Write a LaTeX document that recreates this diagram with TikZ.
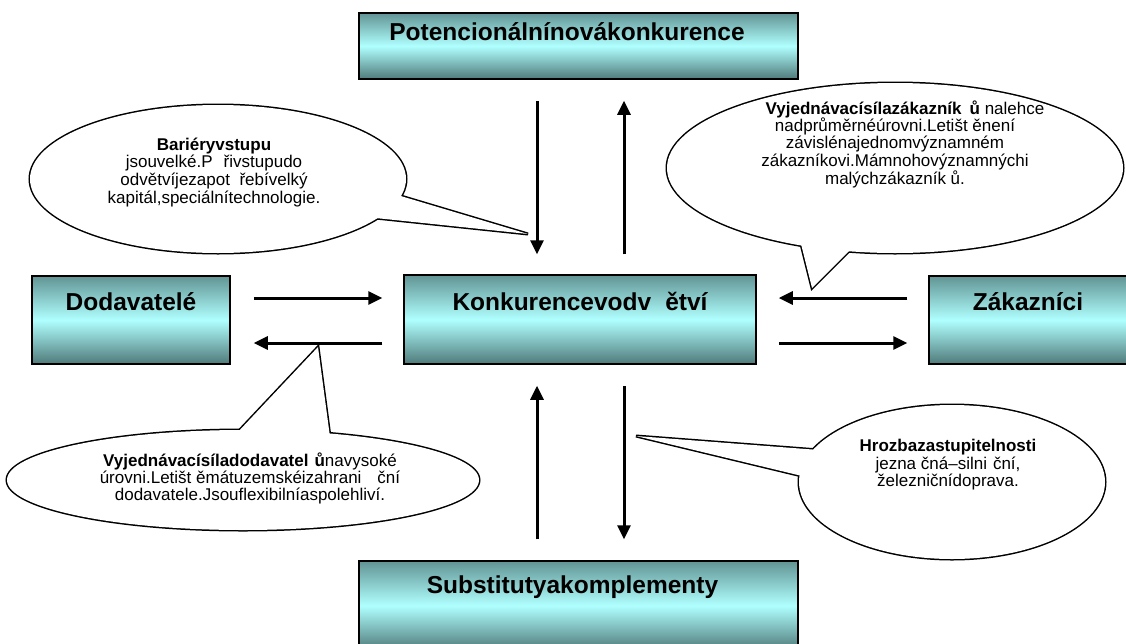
\documentclass[tikz,border=0pt]{standalone}
\usepackage{fontspec}
\setmainfont{Liberation Sans}
\usetikzlibrary{arrows.meta}

\definecolor{boxtop}{RGB}{98,148,148}
\definecolor{boxmid}{RGB}{176,255,255}
\definecolor{boxbot}{RGB}{80,122,122}

% centred multi-line callout text, anchored on the baseline of its first line
\newcommand\bubtext[2]{{\fontsize{17pt}{#1}\selectfont\begin{tabular}[t]{@{}c@{}}#2\end{tabular}}}

\begin{document}
\begin{tikzpicture}[x=1pt,y=-1pt,
  box/.style={draw=black, line width=1.5pt, top color=boxtop, bottom color=boxbot,
              middle color=boxmid, inner sep=0pt},
  title/.style={inner sep=0pt, anchor=base, font=\fontsize{24.5pt}{28pt}\selectfont\bfseries},
  bubtxt/.style={inner sep=0pt, anchor=base},
  arr/.style={line width=3pt, -{Triangle[length=14pt,width=13pt]}},
  bubedge/.style={line width=3pt, fill=white},
]
\useasboundingbox (0,0) rectangle (1126,643);
\clip (0,0) rectangle (1126,643);

% ---- boxes -------------------------------------------------------------
\node[box, minimum width=439pt, minimum height=66pt] (pot)  at (578.5,46)  {};
\node[box, minimum width=352pt, minimum height=89pt] (konk) at (580,319.5) {};
\node[box, minimum width=198pt, minimum height=88pt] (dod)  at (131,320)   {};
\node[box, minimum width=198pt, minimum height=88pt] (zak)  at (1028,320)  {};
\node[box, minimum width=439pt, minimum height=89pt] (sub)  at (578.5,605.5) {};

\node[title] (potT)  at (567,40)    {Potencionálnínovákonkurence};
\node[title] (konkT) at (580,310)   {Konkurencevodv\hspace{14pt}ětví};
\node[title] (dodT)  at (131,310)   {Dodavatelé};
\node[title] (zakT)  at (1028,310)  {Zákazníci};
\node[title] (subT)  at (572.5,593) {Substitutyakomplementy};

% ---- arrows --------------------------------------------------------------
\coordinate (cL) at (537,0);
\coordinate (cR) at (624,0);
\coordinate (rT) at (0,298);
\coordinate (rB) at (0,343);

\draw[arr, shorten <=21pt, shorten >=20pt] (pot.south -| cL) -- (konk.north -| cL);
\draw[arr, shorten <=20pt, shorten >=21pt] (konk.north -| cR) -- (pot.south -| cR);
\draw[arr, shorten <=21pt, shorten >=21pt] (sub.north -| cL) -- (konk.south -| cL);
\draw[arr, shorten <=21pt, shorten >=21pt] (konk.south -| cR) -- (sub.north -| cR);
\draw[arr, shorten <=23pt, shorten >=21pt] (dod.east |- rT) -- (konk.west |- rT);
\draw[arr, shorten <=21pt, shorten >=23pt] (konk.west |- rB) -- (dod.east |- rB);
\draw[arr, shorten <=21pt, shorten >=22pt] (zak.west |- rT) -- (konk.east |- rT);
\draw[arr, shorten <=22pt, shorten >=21pt] (konk.east |- rB) -- (zak.west |- rB);

% ---- callouts: outline drawn twice as wide, then the inside filled white ----
% barriers to entry
\draw[bubedge] (218,179) ellipse [x radius=188pt, y radius=74pt];
\draw[bubedge] (394,194) -- (528,234) -- (366,217);
\fill[white] (218,179) ellipse [x radius=188pt, y radius=74pt];
\fill[white] (394,194) -- (528,234) -- (366,217) -- cycle;

% bargaining power of customers
\draw[bubedge] (895,168) ellipse [x radius=228pt, y radius=85pt];
\draw[bubedge] (800,240) -- (812,288) -- (850,250);
\fill[white] (895,168) ellipse [x radius=228pt, y radius=85pt];
\fill[white] (800,240) -- (812,288) -- (850,250) -- cycle;

% bargaining power of suppliers
\draw[bubedge] (243,480) ellipse [x radius=236pt, y radius=50pt];
\draw[bubedge] (236,434) -- (318,347) -- (330,437);
\fill[white] (243,480) ellipse [x radius=236pt, y radius=50pt];
\fill[white] (236,434) -- (318,347) -- (330,437) -- cycle;

% threat of substitutes
\draw[bubedge] (952,482) ellipse [x radius=153pt, y radius=77pt];
\draw[bubedge] (819,450) -- (636,436) -- (802,476);
\fill[white] (952,482) ellipse [x radius=153pt, y radius=77pt];
\fill[white] (819,450) -- (636,436) -- (802,476) -- cycle;

% ---- callout texts -----------------------------------------------------
\node[bubtxt] (b1T) at (214,150) {\bubtext{17.3pt}{\textbf{Bariéryvstupu}\\
  jsouvelké.P\hspace{11pt}řivstupudo\\
  odvětvíjezapot\hspace{9.5pt}řebívelký\\
  kapitál,speciálnítechnologie.}};

\node[bubtxt] (b2Ta) at (905,114.5) {\fontsize{17pt}{17pt}\selectfont
  \textbf{Vyjednávacísílazákazník\hspace{8pt}ů} nalehce};
\node[bubtxt] (b2Tb) at (895,131) {\bubtext{16.7pt}{nadprůměrnéúrovni.Letišt ěnení\\
  závislénajednomvýznamném\\
  zákazníkovi.Mámnohovýznamnýchi\\
  malýchzákazník ů.}};

\node[bubtxt] (b3T) at (250,466) {\bubtext{16.3pt}{\textbf{Vyjednávacísíladodavatel\hspace{6pt}ů}navysoké\\
  úrovni.Letišt ěmátuzemskéizahrani\hspace{16pt}ční\\
  dodavatele.Jsouflexibilníaspolehliví.}};

\node[bubtxt] (b4T) at (948,451.7) {\bubtext{16.7pt}{\textbf{Hrozbazastupitelnosti}\\
  jezna čná–silni\hspace{6pt}ční,\\
  železničnídoprava.}};
\end{tikzpicture}
\end{document}
